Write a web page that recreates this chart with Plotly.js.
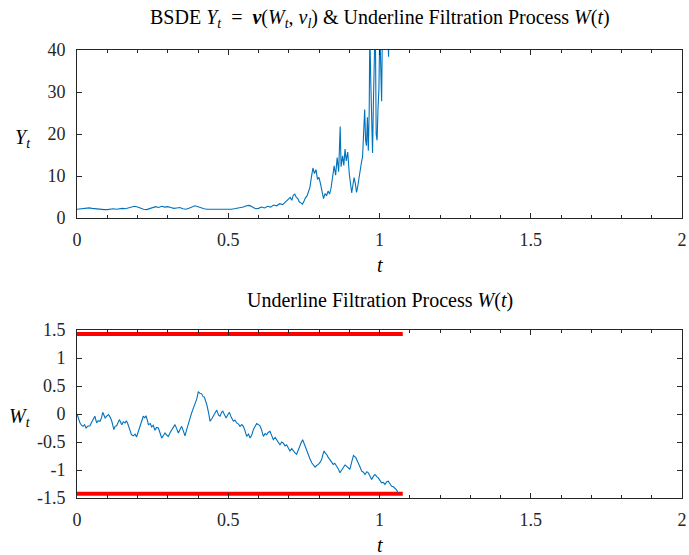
<!DOCTYPE html>
<html>
<head>
<meta charset="utf-8">
<script src="https://cdn.plot.ly/plotly-3.0.1.min.js"></script>
<style>html,body{margin:0;padding:0;background:#fff;}#chart{width:689px;height:555px;}</style>
</head>
<body>
<div id="chart"></div>
<script>
// ---- Data ----
const tY = [0.00,0.01,0.02,0.03,0.04,0.05,0.06,0.07,0.08,0.09,0.10,0.11,0.12,0.13,0.14,0.15,0.16,0.17,0.18,0.19,
  0.20,0.21,0.22,0.23,0.24,0.25,0.26,0.27,0.28,0.29,0.30,0.31,0.32,0.33,0.34,0.35,0.36,0.37,0.38,0.39,
  0.40,0.41,0.42,0.43,0.44,0.45,0.46,0.47,0.48,0.49,0.50,0.51,0.52,0.53,0.54,0.55,0.56,0.57,0.58,0.59,
  0.60,0.61,0.62,0.63,0.64,0.65,0.66,0.67,0.68,0.69,0.70,0.705,0.71,0.715,0.72,0.725,0.73,0.735,0.74,0.745,
  0.75,0.755,0.76,0.765,0.77,0.775,0.78,0.785,0.79,0.795,0.80,0.805,0.81,0.815,0.82,0.825,0.83,0.835,0.84,0.845,
  0.85,0.855,0.86,0.865,0.87,0.873,0.878,0.882,0.886,0.89,0.895,0.90,0.905,0.908,0.912,0.916,0.92,0.924,0.928,0.932,
  0.936,0.94,0.944,0.948,0.951,0.954,0.957,0.96,0.963,0.966,0.968,0.971,0.974,0.977,0.98,0.983,0.986,0.989,0.992,0.995,
  0.998,1.001,1.004,1.007,1.01,1.02,1.03,1.032];
const Yvals = [2.1,2.2,2.3,2.3,2.4,2.3,2.2,2.1,2.1,2.0,2.0,2.1,2.2,2.1,2.2,2.3,2.2,2.4,2.6,2.8,
  2.6,2.3,2.1,2.0,2.2,2.4,2.7,2.5,2.8,2.6,2.7,2.5,2.3,2.4,2.5,2.2,2.1,2.3,2.6,2.9,
  2.7,2.4,2.2,2.1,2.1,2.0,2.0,2.0,2.1,2.0,2.1,2.1,2.2,2.3,2.4,2.6,2.9,3.0,2.6,2.2,
  2.3,2.6,2.4,2.8,2.6,3.1,2.9,3.4,3.2,3.9,4.5,4.9,4.2,5.4,5.7,4.9,4.6,3.8,3.6,3.3,
  3.9,4.8,5.2,6.4,7.3,9.8,11.9,10.6,11.5,9.2,9.7,8.1,6.3,4.6,5.8,5.3,6.4,5.7,7.2,9.8,
  12.4,10.2,14.4,11.0,21.8,12.2,14.8,12.5,16.4,13.6,15.7,10.6,8.1,6.0,7.8,9.6,8.3,6.1,7.5,9.8,
  11.3,13.1,14.6,20.8,25.8,18.5,17.2,24.0,16.0,25.4,45,33,23,15.5,28,42,48,20,18.5,26,
  30.5,45,34,27.8,48,60,38.4,55];

const tW = [0,0.005,0.01,0.015,0.02,0.025,0.03,0.035,0.043,0.048,0.054,0.059,0.065,0.07,0.076,0.081,0.085,0.09,0.093,0.1,
  0.104,0.11,0.115,0.122,0.126,0.131,0.136,0.14,0.148,0.153,0.159,0.163,0.167,0.171,0.175,0.18,0.186,0.192,0.197,0.2,
  0.204,0.208,0.214,0.219,0.224,0.228,0.232,0.236,0.242,0.247,0.252,0.258,0.263,0.269,0.274,0.28,0.286,0.291,0.297,0.302,
  0.308,0.313,0.319,0.324,0.33,0.335,0.34,0.346,0.352,0.357,0.363,0.368,0.374,0.379,0.385,0.39,0.396,0.401,0.406,0.412,
  0.417,0.421,0.425,0.429,0.435,0.44,0.446,0.451,0.457,0.462,0.468,0.473,0.478,0.482,0.488,0.493,0.499,0.504,0.51,0.517,
  0.522,0.528,0.534,0.539,0.545,0.55,0.556,0.561,0.567,0.572,0.578,0.583,0.589,0.594,0.6,0.605,0.61,0.616,0.622,0.627,
  0.632,0.638,0.644,0.649,0.655,0.66,0.666,0.671,0.677,0.682,0.688,0.693,0.699,0.704,0.71,0.715,0.72,0.726,0.732,0.737,
  0.742,0.746,0.75,0.754,0.76,0.765,0.77,0.776,0.782,0.787,0.792,0.798,0.804,0.809,0.813,0.817,0.821,0.825,0.83,0.836,
  0.842,0.847,0.852,0.858,0.864,0.869,0.875,0.88,0.886,0.891,0.897,0.902,0.908,0.914,0.918,0.922,0.926,0.93,0.936,0.941,
  0.947,0.952,0.958,0.963,0.969,0.974,0.98,0.985,0.991,0.996,1.002,1.007,1.013,1.018,1.024,1.029,1.035,1.04,1.046,1.051,
  1.057,1.062];
const Wvals = [0,-0.10,-0.16,-0.20,-0.22,-0.19,-0.25,-0.22,-0.21,-0.15,-0.10,-0.04,-0.16,-0.12,-0.13,-0.07,0.03,-0.04,-0.07,-0.03,
  -0.01,-0.06,-0.13,-0.28,-0.22,-0.21,-0.15,-0.10,-0.19,-0.14,-0.16,-0.12,-0.16,-0.22,-0.30,-0.37,-0.39,-0.36,-0.41,-0.36,
  -0.30,-0.22,-0.12,-0.04,-0.07,-0.03,-0.10,-0.19,-0.17,-0.23,-0.20,-0.29,-0.24,-0.25,-0.33,-0.43,-0.38,-0.34,-0.38,-0.40,
  -0.33,-0.28,-0.24,-0.19,-0.27,-0.34,-0.28,-0.22,-0.31,-0.39,-0.27,-0.16,-0.07,0.02,0.10,0.20,0.27,0.40,0.37,0.36,
  0.31,0.30,0.24,0.17,0.02,-0.13,-0.08,-0.04,0.02,0.07,-0.02,-0.04,0.03,0.05,-0.02,-0.07,-0.01,0.03,-0.06,-0.13,
  -0.11,-0.16,-0.18,-0.22,-0.19,-0.22,-0.31,-0.40,-0.36,-0.43,-0.37,-0.28,-0.22,-0.17,-0.19,-0.21,-0.28,-0.40,-0.35,-0.37,
  -0.33,-0.31,-0.39,-0.46,-0.42,-0.46,-0.50,-0.55,-0.50,-0.52,-0.57,-0.55,-0.61,-0.66,-0.62,-0.66,-0.69,-0.72,-0.63,-0.55,
  -0.50,-0.46,-0.52,-0.58,-0.66,-0.75,-0.80,-0.87,-0.91,-0.95,-0.92,-0.90,-0.86,-0.81,-0.72,-0.66,-0.70,-0.72,-0.77,-0.81,
  -0.85,-0.90,-0.88,-0.93,-0.98,-1.05,-1.00,-0.96,-0.91,-0.93,-0.97,-0.99,-0.86,-0.74,-0.76,-0.78,-0.83,-0.87,-0.95,-1.02,
  -1.04,-1.08,-1.03,-1.05,-1.12,-1.17,-1.11,-1.08,-1.12,-1.14,-1.19,-1.23,-1.22,-1.26,-1.21,-1.20,-1.25,-1.29,-1.30,-1.32,
  -1.36,-1.41];

const boundT = [0, 1.077];
const upperBound = [1.428, 1.428];
const lowerBound = [-1.425, -1.425];

const xTicks = [0, 0.5, 1, 1.5, 2];
const xTickText = ['0', '0.5', '1', '1.5', '2'];
const yTopTicks = [0, 10, 20, 30, 40];
const yBotTicks = [-1.5, -1, -0.5, 0, 0.5, 1, 1.5];
const yBotText = ['-1.5', '-1', '-0.5', '0', '0.5', '1', '1.5'];

// ---- Styling ----
const serif = 'Liberation Serif';
const axCol = '#262626';
const blue = '#0072BD';

function xAxis(anchor, dom) {
  return {
    domain: dom, anchor: anchor, range: [0, 2], tickvals: xTicks, ticktext: xTickText,
    ticks: 'inside', ticklen: 5, tickcolor: axCol, tickwidth: 1,
    minor: {dtick: 0.1, ticks: 'inside', ticklen: 3, tickcolor: axCol, showgrid: false},
    showline: true, linecolor: axCol, linewidth: 1, mirror: 'ticks',
    showgrid: false, zeroline: false, ticklabelstandoff: 5,
    tickfont: {family: serif, size: 18, color: axCol}
  };
}
function yAxis(anchor, dom, range, vals, text) {
  const a = {
    domain: dom, anchor: anchor, range: range, tickvals: vals,
    ticks: 'inside', ticklen: 5, tickcolor: axCol, tickwidth: 1,
    showline: true, linecolor: axCol, linewidth: 1, mirror: 'ticks',
    showgrid: false, zeroline: false, ticklabelstandoff: 7,
    tickfont: {family: serif, size: 18, color: axCol}
  };
  if (text) a.ticktext = text;
  return a;
}

const traces = [
  {x: tY, y: Yvals, xaxis: 'x', yaxis: 'y', mode: 'lines', line: {color: blue, width: 1.1}, hoverinfo: 'skip'},
  {x: boundT, y: upperBound, xaxis: 'x2', yaxis: 'y2', mode: 'lines', line: {color: '#FF0000', width: 4}, hoverinfo: 'skip'},
  {x: boundT, y: lowerBound, xaxis: 'x2', yaxis: 'y2', mode: 'lines', line: {color: '#FF0000', width: 4}, hoverinfo: 'skip'},
  {x: tW, y: Wvals, xaxis: 'x2', yaxis: 'y2', mode: 'lines', line: {color: blue, width: 1.1}, hoverinfo: 'skip'}
];

const W = 689, H = 555;
const px = v => v / W, py = v => 1 - v / H;
const xdom = [px(77), px(682)];

const ann = (text, x, y, size) => ({
  text: text, xref: 'paper', yref: 'paper', x: px(x), y: py(y),
  xanchor: 'center', yanchor: 'middle', showarrow: false,
  font: {family: serif, size: size, color: '#000'}
});

const layout = {
  width: W, height: H, margin: {l: 0, r: 0, t: 0, b: 0},
  font: {family: serif, size: 18, color: axCol},
  paper_bgcolor: '#fff', plot_bgcolor: '#fff', showlegend: false,
  xaxis: xAxis('y', xdom),
  yaxis: yAxis('x', [py(218), py(50)], [0, 40], yTopTicks),
  xaxis2: xAxis('y2', xdom),
  yaxis2: yAxis('x2', [py(498), py(330)], [-1.5, 1.5], yBotTicks, yBotText),
  annotations: [
    ann('BSDE <i>Y</i><sub><i>t</i></sub>  =  <b><i>v</i></b>(<i>W</i><sub><i>t</i></sub>, <i>v</i><sub><i>l</i></sub>) &amp; Underline Filtration Process <i>W</i>(<i>t</i>)', 380, 19, 20),
    ann('Underline Filtration Process <i>W</i>(<i>t</i>)', 380, 300, 20),
    ann('<i>t</i>', 380, 265, 20),
    ann('<i>t</i>', 380, 545, 20),
    ann('<i>Y</i><sub><i>t</i></sub>', 23, 138, 20),
    ann('<i>W</i><sub><i>t</i></sub>', 20, 417, 20)
  ]
};

Plotly.newPlot('chart', traces, layout, {staticPlot: true, displayModeBar: false});
</script>
</body>
</html>
